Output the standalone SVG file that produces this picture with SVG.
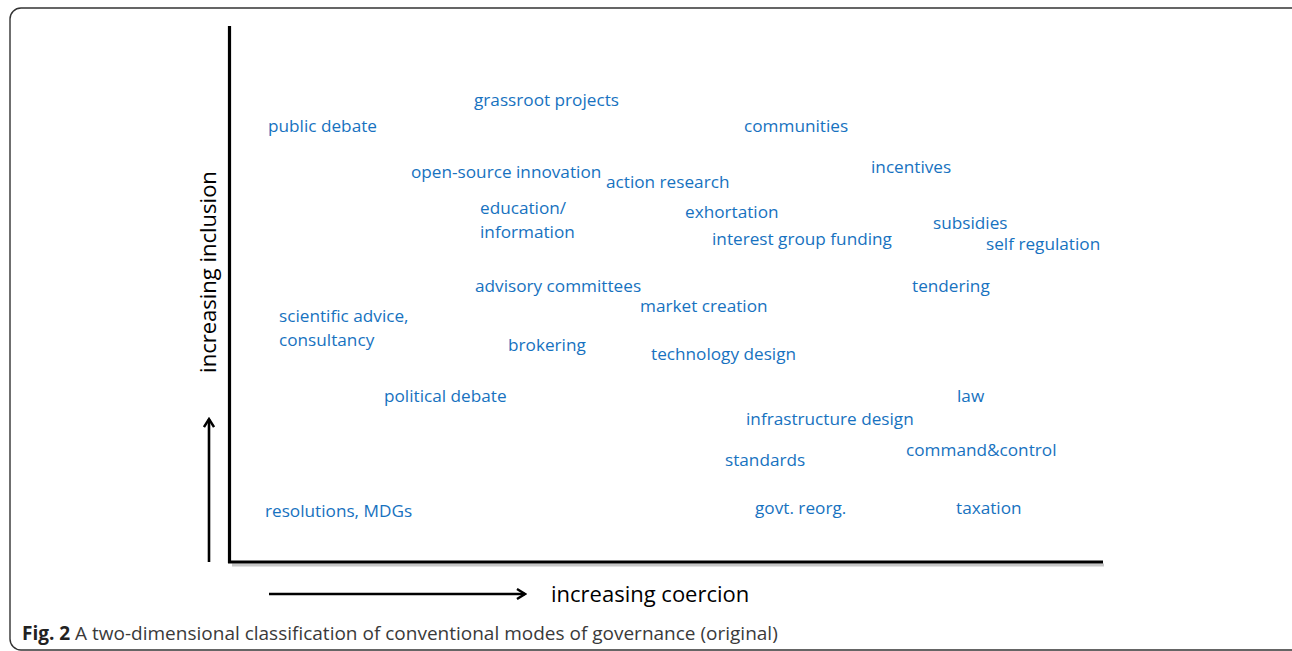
<svg xmlns="http://www.w3.org/2000/svg" width="1292" height="651" viewBox="0 0 1292 651">
<defs>
<style>
.lbl{font-family:"Open Sans","DejaVu Sans",sans-serif;font-size:17.2px;fill:#1772c0}
.ax{font-family:"Open Sans","DejaVu Sans",sans-serif;font-size:22px;fill:#000}
.cap{font-family:"Open Sans","DejaVu Sans",sans-serif;font-size:19px;fill:#3a3a3a}
.axis{stroke:#000;stroke-width:3.2;fill:none}
.shadow{stroke:#c8c8c8;stroke-width:3;fill:none}
.arr{stroke:#000;stroke-width:2.6;fill:none}
</style>
<marker id="head" viewBox="0 0 12 12" refX="10" refY="6" markerWidth="12" markerHeight="12" markerUnits="userSpaceOnUse" orient="auto">
<path d="M2,1 L10,6 L2,11" fill="none" stroke="#000" stroke-width="2.4"/>
</marker>
</defs>
<rect x="0" y="0" width="1292" height="651" fill="#fff"/>
<rect x="10" y="8" width="1300" height="642" rx="11" ry="11" fill="none" stroke="#333" stroke-width="1.4"/>
<g id="connectors">
<line class="shadow" x1="232" y1="565" x2="1104" y2="565"/>
<line class="axis" x1="229.5" y1="26" x2="229.5" y2="563"/>
<line class="axis" x1="228" y1="562" x2="1103" y2="562"/>
<line class="arr" x1="209" y1="562" x2="209" y2="419" marker-end="url(#head)"/>
<line class="arr" x1="269" y1="594" x2="525" y2="594" marker-end="url(#head)"/>
</g>
<g id="axis-labels">
<text class="ax" transform="translate(216,272) rotate(-90)" text-anchor="middle">increasing  inclusion</text>
<text class="ax" x="551" y="602">increasing coercion</text>
</g>
<g id="n-grassroot"><text class="lbl" x="474" y="106">grassroot projects</text></g>
<g id="n-public"><text class="lbl" x="268" y="132">public debate</text></g>
<g id="n-communities"><text class="lbl" x="744" y="132">communities</text></g>
<g id="n-incentives"><text class="lbl" x="871" y="173">incentives</text></g>
<g id="n-opensource"><text class="lbl" x="411" y="178">open-source innovation</text></g>
<g id="n-action"><text class="lbl" x="606" y="188">action research</text></g>
<g id="n-education"><text class="lbl" x="480" y="214">education/</text><text class="lbl" x="480" y="238">information</text></g>
<g id="n-exhortation"><text class="lbl" x="685" y="218">exhortation</text></g>
<g id="n-subsidies"><text class="lbl" x="933" y="229">subsidies</text></g>
<g id="n-interest"><text class="lbl" x="712" y="245">interest group funding</text></g>
<g id="n-selfreg"><text class="lbl" x="986" y="250">self regulation</text></g>
<g id="n-advisory"><text class="lbl" x="475" y="292">advisory committees</text></g>
<g id="n-tendering"><text class="lbl" x="912" y="292">tendering</text></g>
<g id="n-market"><text class="lbl" x="640" y="312">market creation</text></g>
<g id="n-scientific"><text class="lbl" x="279" y="322">scientific advice,</text><text class="lbl" x="279" y="346">consultancy</text></g>
<g id="n-brokering"><text class="lbl" x="508" y="351">brokering</text></g>
<g id="n-technology"><text class="lbl" x="651" y="360">technology design</text></g>
<g id="n-political"><text class="lbl" x="384" y="402">political debate</text></g>
<g id="n-law"><text class="lbl" x="957" y="402">law</text></g>
<g id="n-infrastructure"><text class="lbl" x="746" y="425">infrastructure design</text></g>
<g id="n-command"><text class="lbl" x="906" y="456">command&amp;control</text></g>
<g id="n-standards"><text class="lbl" x="725" y="466">standards</text></g>
<g id="n-resolutions"><text class="lbl" x="265" y="517">resolutions, MDGs</text></g>
<g id="n-govt"><text class="lbl" x="755" y="514">govt. reorg.</text></g>
<g id="n-taxation"><text class="lbl" x="956" y="514">taxation</text></g>
<g id="caption"><text class="cap" x="22" y="640"><tspan font-weight="bold" fill="#222">Fig. 2</tspan> A two-dimensional classification of conventional modes of governance (original)</text></g>
</svg>
